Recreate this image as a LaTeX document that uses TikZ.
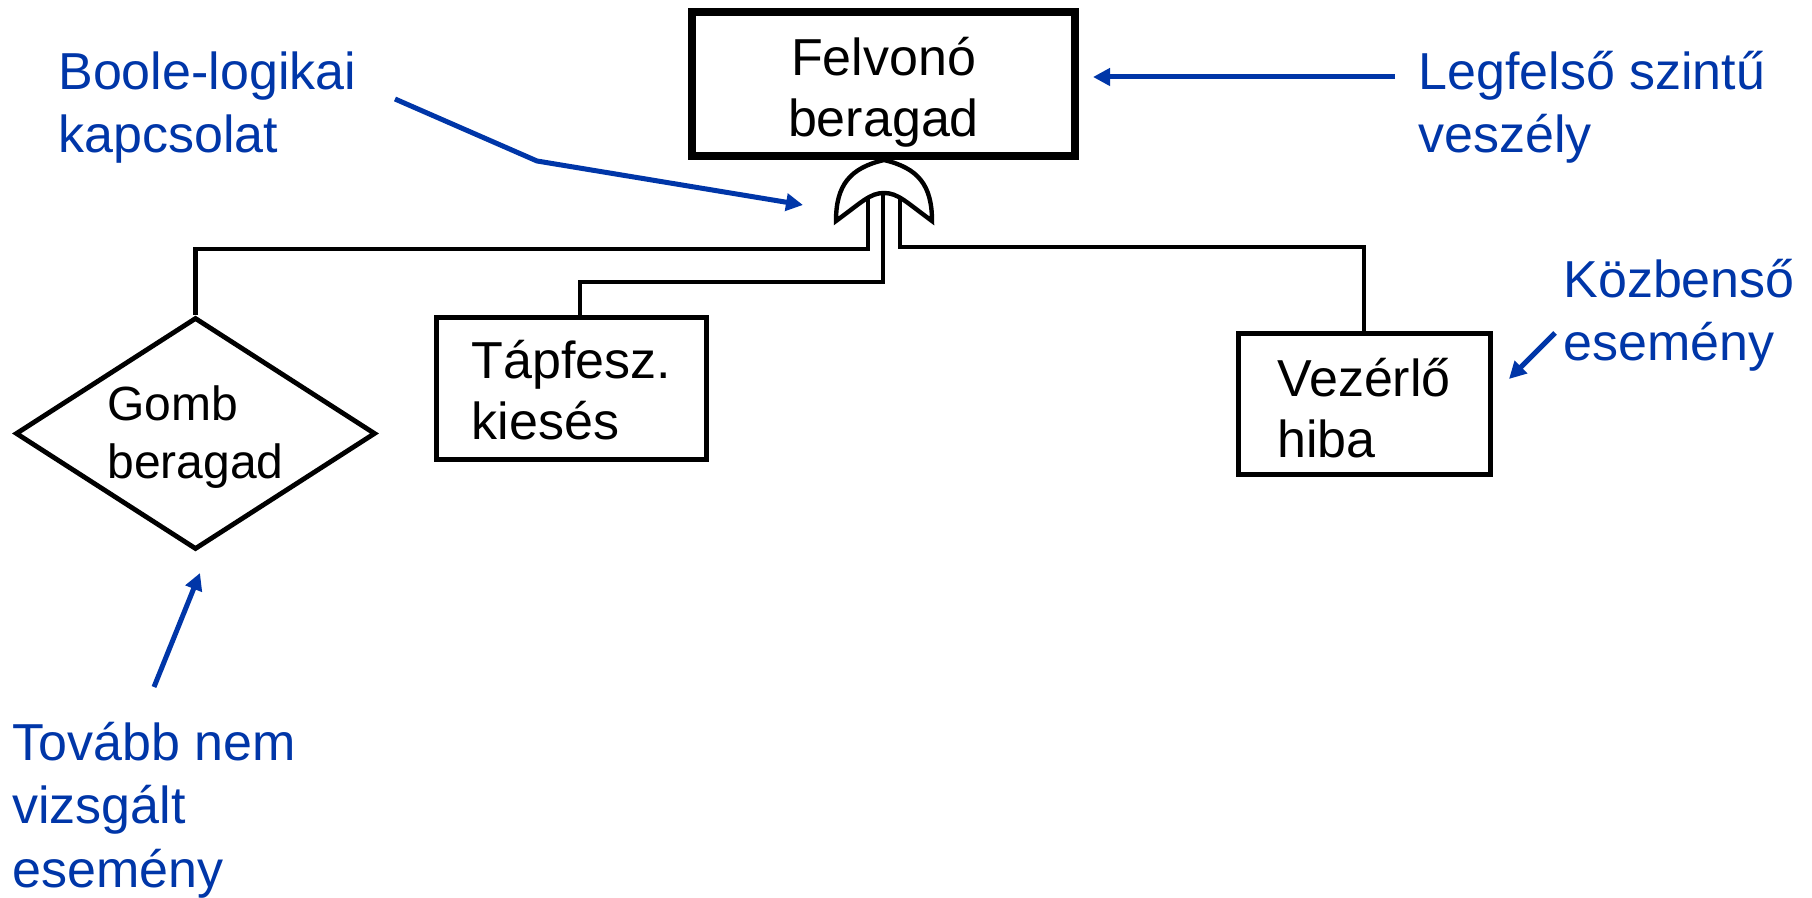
\documentclass[tikz,border=0pt]{standalone}
\usepackage{fontspec}
\setmainfont{Liberation Sans}
\usetikzlibrary{shapes.geometric,arrows.meta}
\definecolor{lblue}{RGB}{0,54,168}
\begin{document}
\begin{tikzpicture}[x=0.5pt,y=-0.5pt,
  evbox/.style={draw=black,rectangle,inner sep=0pt,align=left,font=\fontsize{26pt}{30.5pt}\selectfont},
  wire/.style={draw=black,line width=2.35pt},
  lbl/.style={text=lblue,anchor=base west,align=left,inner sep=0pt,font=\fontsize{26pt}{31.75pt}\selectfont},
  pointer/.style={draw=lblue,line width=2.5pt,-{Triangle[length=8.5pt,width=8.5pt]}}
]
\useasboundingbox (0,0) rectangle (1812,898);
% events
\node[evbox,line width=4pt,minimum width=191.5pt,minimum height=72pt,align=center,
      text height=60pt,text depth=7pt] (top) at (883.5,84) {Felvonó\\beragad};
\node[evbox,line width=2.5pt,minimum width=135pt,minimum height=71pt,
      text height=58pt,text depth=6.5pt] (tap) at (571.5,388.5) {Tápfesz.\\kiesés};
\node[evbox,line width=2.5pt,minimum width=126pt,minimum height=70.5pt,
      text height=60pt,text depth=6.5pt] (vez) at (1364,404.5) {Vezérlő\\hiba};
\node[diamond,draw,line width=2.4pt,inner sep=0pt,aspect=1.53,minimum width=180pt,minimum height=116pt,
      align=left,font=\fontsize{24pt}{29pt}\selectfont,text height=50pt,text depth=4.5pt] (gomb) at (195.5,433.5) {Gomb\\beragad};
% wires from the OR gate
\coordinate (gl) at (868,195);
\coordinate (gm) at (883,188);
\coordinate (gr) at (900,192);
\draw[wire] (gl) -- ++(0,54) -| (gomb.north);
\draw[wire] (gm) -- ++(0,94) -| ([xshift=4.25pt]tap.north);
\draw[wire] (gr) -- ++(0,55) -| (vez.north);
% OR gate
\draw[line width=2.2pt,fill=white] (836,221) .. controls (836,185) and (850,168) .. (884,160)
  .. controls (918,168) and (932,185) .. (932,221)
  .. controls (906,202) and (898,193) .. (884,193)
  .. controls (870,193) and (862,202) .. cycle;
% labels
\node[lbl] (boole) at (58,153) {Boole-logikai\\kapcsolat};
\node[lbl] (legf) at (1418,153) {Legfelső szintű\\veszély};
\node[lbl] (kozb) at (1563,361) {Közbenső\\esemény};
\node[lbl] (tovabb) at (12,887) {Tovább nem\\vizsgált\\esemény};
% pointers
\coordinate (bA) at (395,99);
\coordinate (bB) at (537,161);
\coordinate (bC) at (803,205);
\draw[pointer] (bA) -- (bB) -- (bC);
\coordinate (lA) at (1395,77);
\coordinate (lB) at (1093,77);
\draw[pointer] (lA) -- (lB);
\coordinate (kA) at (1555,333);
\coordinate (kB) at (1509,379);
\draw[pointer] (kA) -- (kB);
\coordinate (tA) at (154,687);
\coordinate (tB) at (200,573);
\draw[pointer] (tA) -- (tB);
\end{tikzpicture}
\end{document}
